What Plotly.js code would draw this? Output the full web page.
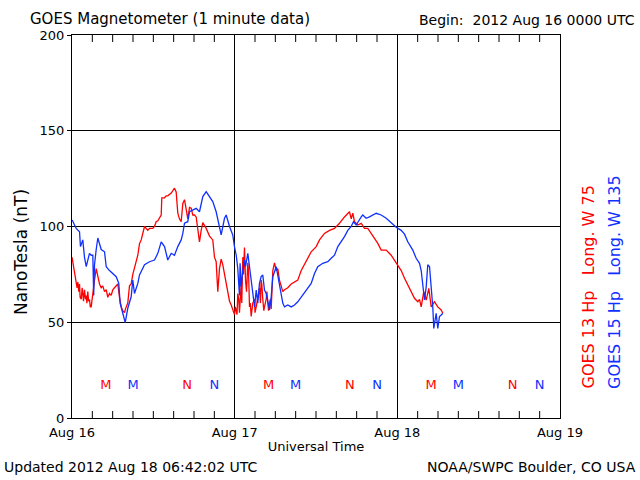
<!DOCTYPE html>
<html>
<head>
<meta charset="utf-8">
<script src="https://cdn.plot.ly/plotly-3.0.1.min.js"></script>
<style>html,body{margin:0;padding:0;background:#fff;}#chart{width:640px;height:480px;}</style>
</head>
<body>
<div id="chart"></div>
<script>
// Hours since 2012-08-16 00:00 UTC, and field values in nT
const g13Hours = [0.00,0.37,0.62,0.75,0.86,1.00,1.11,1.20,1.36,1.50,1.59,1.70,1.84,2.00,2.10,2.20,2.33,2.45,2.58,2.70,2.83,2.95,3.07,3.32,3.57,3.81,4.06,4.31,4.54,4.80,5.05,5.28,5.53,5.78,6.02,6.27,6.52,6.76,7.01,7.26,7.49,7.75,7.89,8.23,8.48,8.73,8.97,9.22,9.47,9.71,9.96,10.21,10.70,11.18,11.43,11.92,12.17,12.42,12.66,13.16,13.25,13.65,13.90,14.13,14.64,15.12,15.37,15.61,15.85,16.11,16.35,16.60,16.85,17.08,17.34,17.59,17.82,18.07,18.32,18.56,18.81,19.06,19.30,19.80,20.29,20.77,21.02,21.27,21.51,21.76,22.01,22.25,22.50,22.75,22.99,23.24,23.49,23.72,23.97,24.10,24.23,24.35,24.46,24.60,24.71,24.96,25.05,25.20,25.30,25.45,25.60,25.75,25.94,26.05,26.19,26.30,26.44,26.67,26.93,27.00,27.18,27.41,27.66,27.80,27.91,28.00,28.15,28.30,28.40,28.65,28.75,28.89,29.00,29.14,29.25,29.39,29.63,29.88,30.13,30.36,30.61,30.86,31.10,31.35,31.84,32.34,32.83,33.31,33.82,34.55,35.29,36.03,36.52,37.25,37.99,38.73,39.47,40.20,40.94,41.20,41.43,41.68,42.17,42.67,43.15,43.64,44.14,44.63,45.12,45.62,46.36,47.09,47.58,47.83,48.07,48.57,49.06,49.54,50.04,50.53,51.02,51.27,51.52,51.76,51.90,52.26,52.64,53.00,53.48,53.97,54.47,54.71];
const g13Values = [84,77,72,68,71,66,70,63,62,68,65,61,67,62,64,60,66,61,62,58,58,62,67,72,78,74,70,68,69,66,67,63,65,64,67,68,69,70,63,58,56,55,57,60,69,70,75,78,82,85,91,93,100,98,99,99,100,102.5,103,106,115,115,116,116,117.5,120,118,107,104,102.5,112,114,109,104,110,109.6,106,106,105,97,92,98,102,99,95,93,84,81.6,66,78,83,80,75,70,64,61,59,56,54,58,55,54,65,62,55,70,60,84,75,89,72,66,81,76,58,60,53,60,62,55,58,63,68,60,72,70,62,56,58,62,66,59,56,60,62,57,77,81,77,78,72,69,66,67,68,70,71,72,77,81.6,86.8,89.5,93,96.4,98,99,101.7,105,107.7,104,107,102.5,100.8,101.7,99,99,96.4,93.8,91.2,87.7,87.7,85,82.5,80.8,80,77,73,69.5,66,62.5,60.7,62,58,63,66,61.6,67.7,58,60.7,58,56.4,54.7];

const g15Hours = [0.03,0.37,0.62,1.11,1.25,1.59,1.84,2.10,2.33,2.58,2.83,3.07,3.20,3.32,3.57,3.81,4.06,4.31,4.80,5.05,5.53,6.02,6.52,6.90,7.10,7.49,7.85,8.23,8.73,8.97,9.22,9.71,9.96,10.70,11.43,12.17,12.66,13.16,13.65,14.13,14.64,15.12,15.61,16.11,16.35,16.60,17.08,17.34,17.82,18.32,18.81,19.30,19.80,20.29,20.77,21.27,21.76,22.01,22.50,22.75,23.24,23.72,23.97,24.23,24.46,24.71,24.80,24.96,25.20,25.45,25.60,25.94,26.19,26.44,26.67,26.93,27.18,27.41,27.66,27.91,28.15,28.40,28.65,28.89,29.14,29.39,29.63,30.13,30.61,30.86,31.10,31.35,31.84,32.34,32.83,33.31,33.82,34.55,35.29,35.78,36.26,37.00,37.74,38.24,38.73,39.22,39.72,40.20,40.69,41.19,41.53,41.93,42.67,42.90,43.40,43.89,44.88,45.62,46.36,47.09,47.83,48.57,49.06,49.54,50.28,50.78,51.27,51.52,51.76,52.01,52.26,52.49,52.75,53.00,53.23,53.38,53.73,53.97,54.22,54.47,54.71];
const g15Values = [103.4,101,99,97.3,89.5,93,84,79,83,86,85,85,64,80,88,94,91,88,86.8,79,77,75.5,73.8,70.3,60,54.7,49.8,57.3,63.3,72,65,70.3,74.7,80,81.6,82.5,86,92,89.5,82.5,86,85,89.5,93,96.4,101.7,102.5,107.7,108.6,109.5,107.7,115.6,118.2,115.6,113,107.7,100,95.6,104.3,106,100,95.6,89.5,85,78,64,80.8,68.6,77,82.5,79,86,79,72,65,58,66.8,60,70.3,73.8,74.7,66.8,65,60,56.4,63.3,73.8,79,70.3,66,60,58,59,58,59,60.7,63.3,66.8,70.3,75.5,79,80.8,81.6,83.4,85,89.5,92,94.7,98,100,102.5,100.8,105,106,104.3,105,106.9,106,104.3,101.7,99.6,98,96,92,87.7,83.4,80.8,77,68.6,61.6,68.6,80,79,68.6,58,46.8,54.7,46.8,53,53.8,54.7];

// Local midnight (M) / noon (N) markers
const g13MarkHours = [5,17,29,41,53,65];
const g15MarkHours = [9,21,33,45,57,69];
const markLabels = ['M','N','M','N','M','N'];
const markLevel = 17;

const yTicks = [0,50,100,150,200];
const yRange = [0,200];
const xTickHours = [0,24,48,72];
const xTickText = ['Aug 16','Aug 17','Aug 18','Aug 19'];
const xRangeHours = [0,72];
// 3-hourly minor tick positions (hours)
const minorTickHours = [3,6,9,12,15,18,21,27,30,33,36,39,42,45,51,54,57,60,63,66,69];

const RED = '#ff0000', BLUE = '#1030ff';
const FONT = 'DejaVu Sans, sans-serif';

const tickMarks = (yv) => ({
  x: minorTickHours, y: minorTickHours.map(()=>yv), mode:'markers', cliponaxis:true,
  marker:{symbol:'line-ns-open', size:10, color:'#000', line:{color:'#000', width:1}}, hoverinfo:'skip'
});

const traces = [
  {x: g13Hours, y: g13Values, mode:'lines', line:{color:RED,width:1.3}, hoverinfo:'skip'},
  {x: g15Hours, y: g15Values, mode:'lines', line:{color:BLUE,width:1.3}, hoverinfo:'skip'},
  {x: g13MarkHours, y: g13MarkHours.map(()=>markLevel), mode:'text', text: markLabels, textfont:{family:FONT,size:13,color:RED}, hoverinfo:'skip'},
  {x: g15MarkHours, y: g15MarkHours.map(()=>markLevel), mode:'text', text: markLabels, textfont:{family:FONT,size:13,color:BLUE}, hoverinfo:'skip'},
  tickMarks(yRange[0]),
  tickMarks(yRange[1])
];

const layout = {
  width:640, height:480,
  margin:{l:72, r:80, t:35, b:62},
  paper_bgcolor:'#fff', plot_bgcolor:'#fff',
  showlegend:false,
  font:{family:FONT, color:'#000', size:13},
  title:{text:'GOES Magnetometer (1 minute data)', font:{family:FONT,size:15,color:'#000'}, xref:'container', yref:'container', x:30/640, xanchor:'left', y:1-19/480, yanchor:'middle'},
  xaxis:{
    type:'linear', range:xRangeHours,
    tickmode:'array', tickvals:xTickHours, ticktext:xTickText,
    showgrid:true, gridcolor:'#000', gridwidth:1,
    showline:true, linecolor:'#000', linewidth:1, mirror:true,
    ticks:'',
    tickfont:{family:FONT,size:13}, ticklabelstandoff:2, zeroline:false,
    title:{text:'Universal Time', font:{family:FONT,size:13}, standoff:3},
    fixedrange:true
  },
  yaxis:{
    range:yRange, tickmode:'array', tickvals:yTicks,
    showgrid:true, gridcolor:'#000', gridwidth:1,
    showline:true, linecolor:'#000', linewidth:1, mirror:true,
    ticks:'outside', ticklen:4, tickcolor:'#000',
    tickfont:{family:FONT,size:13}, zeroline:false, fixedrange:true
  },
  annotations:[
    {text:'Begin:  2012 Aug 16 0000 UTC', xref:'paper', yref:'paper', x:(637-72)/488, xanchor:'right', y:(418-20)/383, yanchor:'middle', showarrow:false, font:{family:FONT,size:14}},
    {text:'NanoTesla (nT)', xref:'paper', yref:'paper', x:(21-72)/488, xanchor:'center', y:(418-252)/383, yanchor:'middle', textangle:-90, showarrow:false, font:{family:FONT,size:17}},
    {text:'Updated 2012 Aug 18 06:42:02 UTC', xref:'paper', yref:'paper', x:(2-72)/488, xanchor:'left', y:(418-467)/383, yanchor:'middle', showarrow:false, font:{family:FONT,size:14}},
    {text:'NOAA/SWPC Boulder, CO USA', xref:'paper', yref:'paper', x:(638-72)/488, xanchor:'right', y:(418-467)/383, yanchor:'middle', showarrow:false, font:{family:FONT,size:14}},
    {text:'GOES 13 Hp   Long. W 75', xref:'paper', yref:'paper', x:(588-72)/488, xanchor:'center', y:(418-391)/383, yanchor:'bottom', textangle:-90, showarrow:false, font:{family:FONT,size:16,color:RED}},
    {text:'GOES 15 Hp   Long. W 135', xref:'paper', yref:'paper', x:(614-72)/488, xanchor:'center', y:(418-391)/383, yanchor:'bottom', textangle:-90, showarrow:false, font:{family:FONT,size:16,color:BLUE}}
  ]
};

Plotly.newPlot('chart', traces, layout, {staticPlot:true, displayModeBar:false});
</script>
</body>
</html>
